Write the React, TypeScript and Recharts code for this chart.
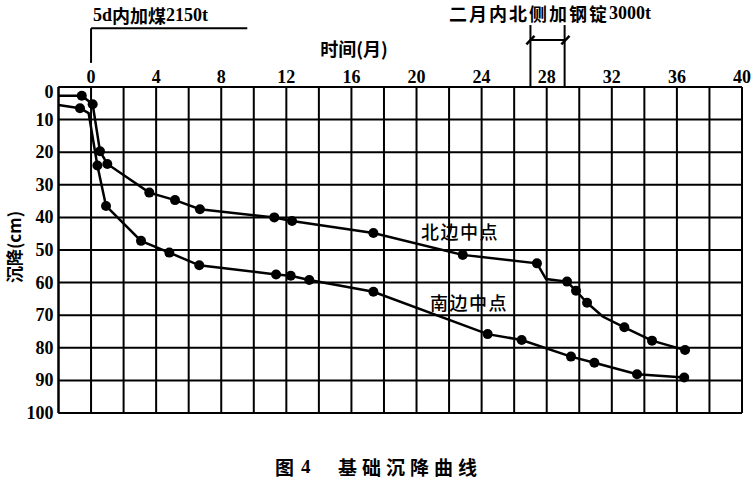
import {
  CartesianGrid,
  Line,
  LineChart,
  ReferenceLine,
  XAxis,
  YAxis,
} from "recharts";

// 北边中点
const northTime = [
  -2, -0.57, 0.1, 0.55, 1.0, 3.58, 5.16, 6.69, 11.26, 12.35, 17.35, 22.84, 27.4,
  27.96, 29.25, 29.8, 30.48, 31.44, 32.77, 34.47, 36.5,
];
const northSettle = [
  2.7, 2.7, 5.3, 19.7, 23.6, 32.4, 34.7, 37.5, 40.0, 41.1, 44.8, 51.5, 54.1,
  58.9, 59.7, 62.5, 66.2, 70.4, 73.7, 77.8, 80.7,
];
const northNoDot = [0, 13, 17];

// 南边中点
const southTime = [
  -2, -0.68, -0.15, 0.39, 0.92, 3.07, 4.81, 6.65, 11.37, 12.27, 13.41, 17.35,
  24.37, 26.46, 29.49, 30.93, 33.55, 36.45,
];
const southSettle = [
  5.5, 6.5, 8.0, 24.1, 36.5, 47.2, 50.8, 54.7, 57.5, 57.9, 59.2, 62.8, 75.8,
  77.6, 82.7, 84.6, 88.1, 89.1,
];
const southNoDot = [0, 2];

const xTicks = [0, 4, 8, 12, 16, 20, 24, 28, 32, 36, 40];
const yTicks = [0, 10, 20, 30, 40, 50, 60, 70, 80, 90, 100];
const gridMonths = [-2, 0, 2, 4, 6, 8, 10, 12, 14, 16, 18, 20, 22, 24, 26, 28, 30, 32, 34, 36, 38, 40];

// loading brackets (months / settlement units above the frame)
const coalStart = 0;
const coalEnd = 9.6;
const steelStart = 27.0;
const steelEnd = 29.1;

const north = northTime.map((t, i) => ({ t, s: northSettle[i] }));
const south = southTime.map((t, i) => ({ t, s: southSettle[i] }));

const serif = '"Liberation Serif", "Times New Roman", serif';
const cjk = '"Noto Sans CJK SC", sans-serif';

const makeDot = (skip: number[]) => (props: any) => {
  const { cx, cy, index } = props;
  if (skip.includes(index) || cx == null || cy == null) {
    return <g key={`d-${index}`} />;
  }
  return <circle key={`d-${index}`} cx={cx} cy={cy} r={5} fill="#000" stroke="none" />;
};

const XTick = (props: any) => {
  const { x, y, payload } = props;
  return (
    <text
      x={x}
      y={y}
      textAnchor="middle"
      style={{ fontFamily: serif, fontWeight: 700, fontSize: 18, fill: "#000" }}
    >
      {payload.value}
    </text>
  );
};

const YTick = (props: any) => {
  const { x, y, payload } = props;
  const shift = payload.value === 0 ? 5 : 0;
  return (
    <text
      x={x}
      y={y + shift}
      textAnchor="end"
      dominantBaseline="central"
      style={{ fontFamily: serif, fontWeight: 700, fontSize: 18, fill: "#000" }}
    >
      {payload.value}
    </text>
  );
};

const line = { stroke: "#000", strokeWidth: 2, ifOverflow: "visible" as const };

const txt = (family: string, size: number, weight = 700) => ({
  fontFamily: family,
  fontSize: size,
  fontWeight: weight,
  fill: "#000",
});

const App = () => {
  return (
    <div style={{ position: "absolute", left: 0, top: 0, width: 752, height: 478, background: "#fff" }}>
      <LineChart width={752} height={478} margin={{ top: 57, right: 10, bottom: 65, left: 8.5 }}>
        <CartesianGrid vertical={false} stroke="#000" strokeWidth={2} strokeOpacity={1} />
        <XAxis
          type="number"
          dataKey="t"
          orientation="top"
          domain={[-2, 40]}
          ticks={xTicks}
          allowDataOverflow
          height={30}
          tickLine={false}
          tickSize={0}
          tickMargin={4}
          axisLine={{ stroke: "#000", strokeWidth: 2 }}
          tick={<XTick />}
        />
        <YAxis
          type="number"
          dataKey="s"
          domain={[0, 100]}
          reversed
          ticks={yTicks}
          width={50}
          tickLine={false}
          tickSize={0}
          tickMargin={5}
          axisLine={{ stroke: "#000", strokeWidth: 2 }}
          tick={<YTick />}
        />
        {gridMonths.map((m) => (
          <ReferenceLine key={`g-${m}`} x={m} stroke="#000" strokeWidth={2} />
        ))}
        <ReferenceLine y={100} stroke="#000" strokeWidth={2} />

        {/* 5d内加煤2150t */}
        <ReferenceLine segment={[{ x: coalStart, y: -18 }, { x: coalEnd, y: -18 }]} {...line} />
        <ReferenceLine segment={[{ x: coalStart, y: -18 }, { x: coalStart, y: -7.4 }]} {...line} />

        {/* 二月内北侧加钢锭3000t */}
        <ReferenceLine segment={[{ x: steelStart, y: -19 }, { x: steelStart, y: 0 }]} {...line} />
        <ReferenceLine segment={[{ x: steelEnd, y: -19 }, { x: steelEnd, y: 0 }]} {...line} />
        <ReferenceLine segment={[{ x: steelStart, y: -14.4 }, { x: steelEnd, y: -14.4 }]} {...line} />
        <ReferenceLine
          segment={[{ x: steelStart - 0.25, y: -13.1 }, { x: steelStart + 0.25, y: -15.7 }]}
          {...line}
          strokeWidth={2.5}
        />
        <ReferenceLine
          segment={[{ x: steelEnd - 0.2, y: -13.1 }, { x: steelEnd + 0.3, y: -15.7 }]}
          {...line}
          strokeWidth={2.5}
        />

        <Line
          data={north}
          dataKey="s"
          name="北边中点"
          type="linear"
          stroke="#000"
          strokeWidth={2.5}
          dot={makeDot(northNoDot)}
          activeDot={false}
          isAnimationActive={false}
        />
        <Line
          data={south}
          dataKey="s"
          name="南边中点"
          type="linear"
          stroke="#000"
          strokeWidth={2.5}
          dot={makeDot(southNoDot)}
          activeDot={false}
          isAnimationActive={false}
        />
      </LineChart>

      <svg
        width={752}
        height={478}
        style={{ position: "absolute", left: 0, top: 0, pointerEvents: "none" }}
      >
        <text x={93} y={15} dominantBaseline="central" style={txt(serif, 18)}>
          5d<tspan style={{ fontFamily: cjk }}>内加煤</tspan>2150t
        </text>
        <text x={449} y={13} dominantBaseline="central" style={txt(cjk, 18)} letterSpacing={2}>
          二月内北侧加钢锭<tspan style={{ fontFamily: serif }} letterSpacing={0}>3000t</tspan>
        </text>
        <text x={354} y={48} textAnchor="middle" dominantBaseline="central" style={txt(cjk, 18)}>
          时间(月)
        </text>
        <text
          x={13}
          y={247}
          textAnchor="middle"
          dominantBaseline="central"
          style={txt(cjk, 17)}
          transform="rotate(-90 13 247)"
        >
          沉降(cm)
        </text>
        <text x={275} y={466} dominantBaseline="central" style={txt(cjk, 19)}>
          图
        </text>
        <text x={301} y={466} dominantBaseline="central" style={txt(serif, 19)}>
          4
        </text>
        <text x={338} y={466} dominantBaseline="central" style={txt(cjk, 19)} letterSpacing={5}>
          基础沉降曲线
        </text>
        <text x={421} y={231} dominantBaseline="central" style={txt(cjk, 18, 500)} letterSpacing={1.5}>
          北边中点
        </text>
        <text x={430} y={302} dominantBaseline="central" style={txt(cjk, 18, 500)} letterSpacing={1.5}>
          南边中点
        </text>
      </svg>
    </div>
  );
};

export default App;
